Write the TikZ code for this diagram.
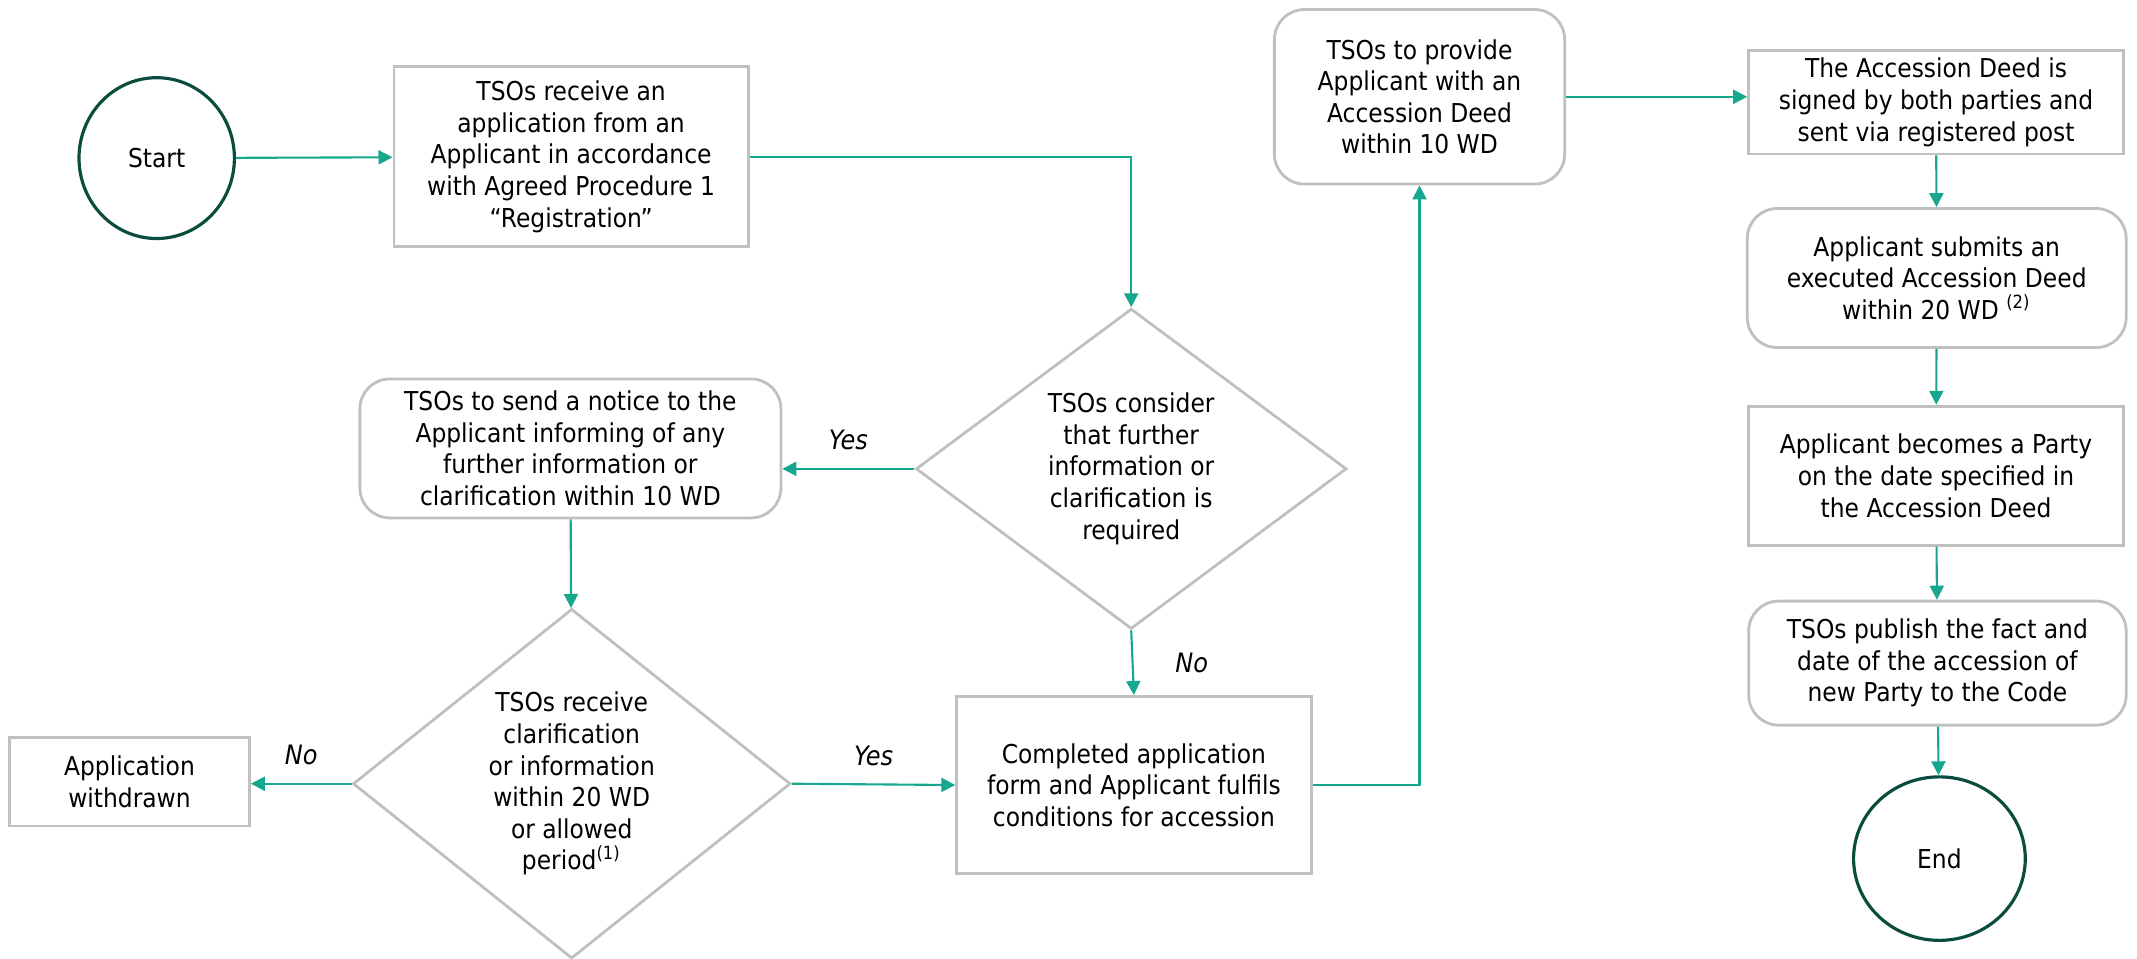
\documentclass[tikz,border=0pt]{standalone}
\usepackage{fontspec}
\setmainfont{DejaVu Sans Condensed}
\usetikzlibrary{arrows.meta,shapes.geometric}
\definecolor{flowteal}{RGB}{21,168,142}
\definecolor{edgegray}{RGB}{192,192,192}
\definecolor{darkgreen}{RGB}{10,76,62}
\tikzset{
  boxstep/.style={draw=edgegray, line width=0.8pt, align=center, inner sep=1pt},
  roundstep/.style={boxstep, rounded corners=0.3cm},
  choice/.style={diamond, draw=edgegray, line width=0.8pt, align=center, inner sep=0pt},
  terminal/.style={ellipse, draw=darkgreen, line width=0.9pt, align=center},
  flow/.style={draw=flowteal, line width=0.6pt, -{Triangle[length=0.14cm,width=0.14cm]}},
  answer/.style={font=\fontsize{7.6}{9}\selectfont\itshape}
}
\begin{document}
\begin{tikzpicture}[font=\fontsize{7.4}{9}\selectfont]
    \useasboundingbox (0,0) rectangle (21.37,-9.58);
    % left part
    \node[terminal, minimum width=1.554cm, minimum height=1.608cm] (start) at (1.567,-1.581) {Start};
    \node[boxstep, minimum width=3.544cm, minimum height=1.799cm] (receive) at (5.711,-1.567) {TSOs receive an\\application from an\\Applicant in accordance\\with Agreed Procedure 1\\``Registration''};
    \node[choice, minimum width=4.307cm, minimum height=3.203cm] (consider) at (11.312,-4.688) {TSOs consider\\that further\\information or\\clarification is\\required};
    \node[roundstep, minimum width=4.211cm, minimum height=1.39cm] (notice) at (5.704,-4.484) {TSOs to send a notice to the\\Applicant informing of any\\further information or\\clarification within 10 WD};
    \node[choice, minimum width=4.375cm, minimum height=3.448cm] (clarif) at (5.717,-7.837) {TSOs receive\\clarification\\or information\\within 20 WD\\or allowed\\period\textsuperscript{(1)}};
    \node[boxstep, minimum width=2.399cm, minimum height=0.886cm] (withdrawn) at (1.295,-7.816) {Application\\withdrawn};
    \node[boxstep, minimum width=3.544cm, minimum height=1.772cm] (complete) at (11.339,-7.85) {Completed application\\form and Applicant fulfils\\conditions for accession};
    % right part
    \node[roundstep, minimum width=2.903cm, minimum height=1.745cm] (provide) at (14.195,-0.968) {TSOs to provide\\Applicant with an\\Accession Deed\\within 10 WD};
    \node[boxstep, minimum width=3.748cm, minimum height=1.036cm] (signed) at (19.36,-1.022) {The Accession Deed is\\signed by both parties and\\sent via registered post};
    \node[roundstep, minimum width=3.789cm, minimum height=1.39cm] (submits) at (19.367,-2.78) {Applicant submits an\\executed Accession Deed\\within 20 WD \textsuperscript{(2)}};
    \node[boxstep, minimum width=3.748cm, minimum height=1.39cm] (becomes) at (19.36,-4.757) {Applicant becomes a Party\\on the date specified in\\the Accession Deed};
    \node[roundstep, minimum width=3.775cm, minimum height=1.24cm] (publish) at (19.374,-6.631) {TSOs publish the fact and\\date of the accession of\\new Party to the Code};
    \node[terminal, minimum width=1.717cm, minimum height=1.635cm] (end) at (19.394,-8.586) {End};

    \draw[flow] (start) -- (receive);
    \draw[flow] (receive.east) -| (consider.north);
    \draw[flow] (consider.west) -- (consider.west -| notice.east) node[answer, midway, above=0.06cm]{Yes};
    \draw[flow] (consider.south) -- (complete.north) node[answer, midway, right=0.3cm]{No};
    \draw[flow] (notice) -- (clarif);
    \draw[flow] (clarif.west) -- (clarif.west -| withdrawn.east) node[answer, midway, above=0.06cm]{No};
    \draw[flow] (clarif.east) -- (complete.west) node[answer, midway, above=0.06cm]{Yes};
    \draw[flow] (complete.east) -| (provide.south);
    \draw[flow] (provide.east) -- (provide.east -| signed.west);
    \draw[flow] (signed) -- (submits);
    \draw[flow] (submits) -- (becomes);
    \draw[flow] (becomes) -- (publish);
    \draw[flow] (publish) -- (end);
\end{tikzpicture}
\end{document}
